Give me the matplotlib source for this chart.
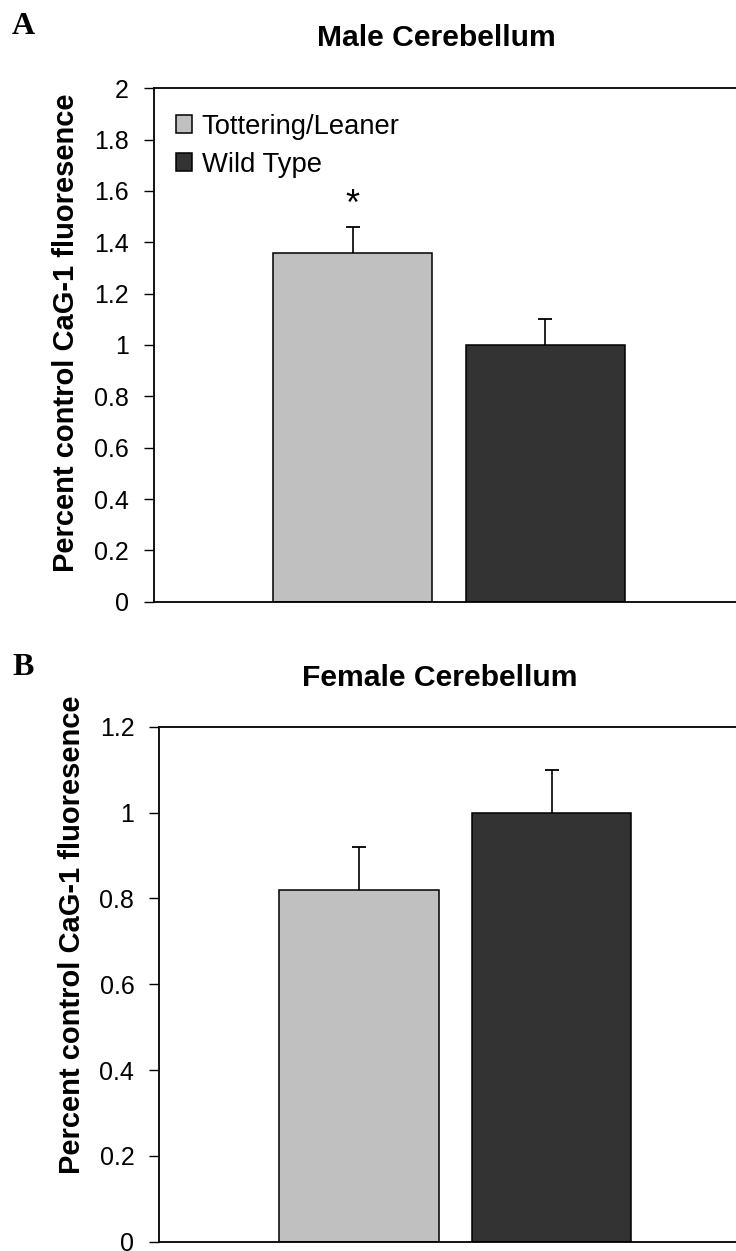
"""Male / female cerebellum CaG-1 fluorescence bar panels."""

import matplotlib.pyplot as plt
from matplotlib.patches import Patch

plt.rcParams["font.family"] = ["Liberation Sans", "DejaVu Sans"]

GROUPS = ["Tottering/Leaner", "Wild Type"]
COLORS = ["#c0c0c0", "#333333"]

MALE_MEANS = [1.36, 1.00]
MALE_SEM = [0.10, 0.10]
FEMALE_MEANS = [0.82, 1.00]
FEMALE_SEM = [0.10, 0.10]

YLABEL = "Percent control CaG-1 fluoresence"

W, H = 736, 1251
fig = plt.figure(figsize=(W / 100, H / 100), dpi=100)


def px_axes(left, top, right, bottom):
    return fig.add_axes([left / W, 1 - bottom / H, (right - left) / W, (bottom - top) / H])


def draw_panel(ax, means, sems, ymax, step):
    bar_w = 0.27
    gap = 0.056
    xs = [0.5 - (bar_w + gap) / 2, 0.5 + (bar_w + gap) / 2]
    tops = [m + s for m, s in zip(means, sems)]
    ax.bar(xs, means, width=bar_w, color=COLORS, edgecolor="black", linewidth=1.1, zorder=2)
    # upper half of the error bar only, capped at the top
    ax.vlines(xs, means, tops, color="black", linewidth=1.2, zorder=3)
    ax.scatter(xs, tops, marker="_", s=110, color="black", linewidths=1.3, zorder=3)
    ax.set_xlim(0, 1)
    ax.set_ylim(0, ymax)
    ticks = [round(i * step, 1) for i in range(int(round(ymax / step)) + 1)]
    ax.set_yticks(ticks)
    ax.set_yticklabels([f"{t:g}" for t in ticks])
    ax.set_xticks([])
    ax.tick_params(axis="y", direction="out", length=7, width=1.0, pad=11, labelsize=18)
    for s in ax.spines.values():
        s.set_linewidth(1.3)
    ax.spines["right"].set_visible(False)
    return xs, tops


# Panel A: male
ax1 = px_axes(154, 88.3, 744, 601.7)
xs, tops = draw_panel(ax1, MALE_MEANS, MALE_SEM, 2.0, 0.2)
ax1.text(xs[0], tops[0] + 0.015, "*", ha="center", va="bottom", fontsize=26)
handles = [Patch(facecolor=c, edgecolor="black", linewidth=1.1) for c in COLORS]
ax1.legend(handles, GROUPS, loc="upper left", bbox_to_anchor=(0.018, 0.972), frameon=False,
           fontsize=19.7, handlelength=0.6, handleheight=0.6, handletextpad=0.35,
           labelspacing=0.44, borderaxespad=0.0)

fig.text(436 / W, 1 - 38 / H, "Male Cerebellum", ha="center", va="center",
         fontsize=21.7, fontweight="bold")
fig.text(66 / W, 1 - 333 / H, YLABEL, rotation=90, ha="center", va="center",
         fontsize=21, fontweight="bold")
fig.text(12 / W, 1 - 12 / H, "A", ha="left", va="top", fontsize=23,
         fontweight="bold", family="Liberation Serif")

# Panel B: female
ax2 = px_axes(159.3, 726.7, 751, 1241.7)
draw_panel(ax2, FEMALE_MEANS, FEMALE_SEM, 1.2, 0.2)

fig.text(440 / W, 1 - 678 / H, "Female Cerebellum", ha="center", va="center",
         fontsize=21.7, fontweight="bold")
fig.text(72 / W, 1 - 935 / H, YLABEL, rotation=90, ha="center", va="center",
         fontsize=21, fontweight="bold")
fig.text(12 / W, 1 - 653 / H, "B", ha="left", va="top", fontsize=23,
         fontweight="bold", family="Liberation Serif")

fig.savefig("out.png", dpi=100)
